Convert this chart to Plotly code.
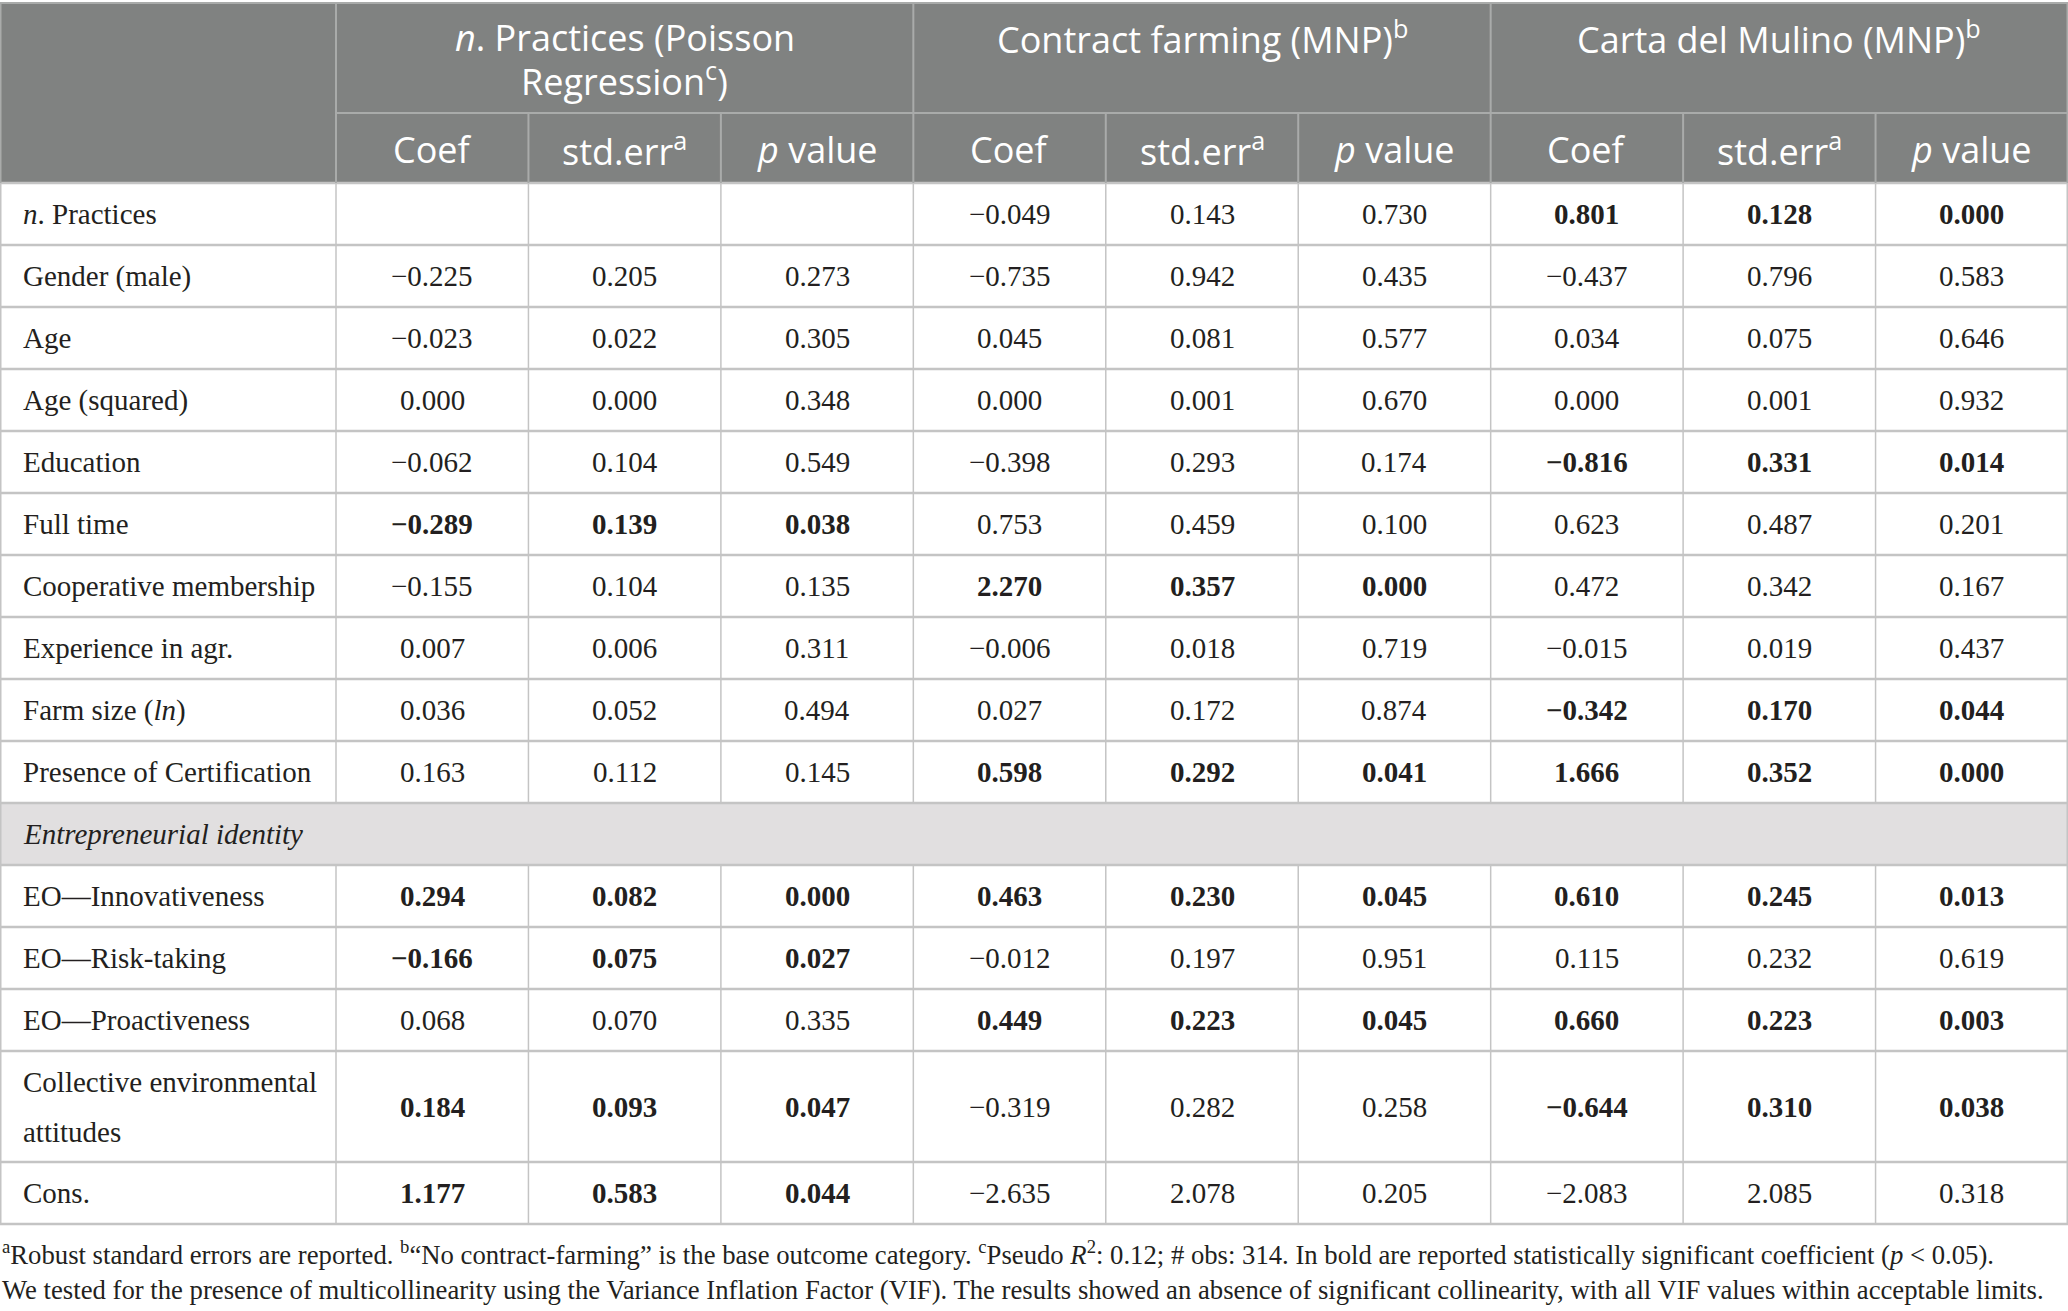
import plotly.graph_objects as go

# table content
variables = ["<i>n</i>. Practices", "Gender (male)", "Age", "Age (squared)", "Education",
             "Full time", "Cooperative membership", "Experience in agr.", "Farm size (<i>ln</i>)",
             "Presence of Certification", "EO—Innovativeness", "EO—Risk-taking",
             "EO—Proactiveness", "Collective environmental<br>attitudes", "Cons."]
section_label = "Entrepreneurial identity"
section_before = "EO—Innovativeness"

models = ["<i>n</i>. Practices (Poisson<br>Regression<sup>c</sup>)",
          "Contract farming (MNP)<sup>b</sup>",
          "Carta del Mulino (MNP)<sup>b</sup>"]
stats = ["Coef", "std.err<sup>a</sup>", "<i>p</i> value"]

poisson_coef = [None, -0.225, -0.023, 0.000, -0.062, -0.289, -0.155, 0.007, 0.036, 0.163,
                0.294, -0.166, 0.068, 0.184, 1.177]
poisson_se = [None, 0.205, 0.022, 0.000, 0.104, 0.139, 0.104, 0.006, 0.052, 0.112,
              0.082, 0.075, 0.070, 0.093, 0.583]
poisson_p = [None, 0.273, 0.305, 0.348, 0.549, 0.038, 0.135, 0.311, 0.494, 0.145,
             0.000, 0.027, 0.335, 0.047, 0.044]

contract_coef = [-0.049, -0.735, 0.045, 0.000, -0.398, 0.753, 2.270, -0.006, 0.027, 0.598,
                 0.463, -0.012, 0.449, -0.319, -2.635]
contract_se = [0.143, 0.942, 0.081, 0.001, 0.293, 0.459, 0.357, 0.018, 0.172, 0.292,
               0.230, 0.197, 0.223, 0.282, 2.078]
contract_p = [0.730, 0.435, 0.577, 0.670, 0.174, 0.100, 0.000, 0.719, 0.874, 0.041,
              0.045, 0.951, 0.045, 0.258, 0.205]

mulino_coef = [0.801, -0.437, 0.034, 0.000, -0.816, 0.623, 0.472, -0.015, -0.342, 1.666,
               0.610, 0.115, 0.660, -0.644, -2.083]
mulino_se = [0.128, 0.796, 0.075, 0.001, 0.331, 0.487, 0.342, 0.019, 0.170, 0.352,
             0.245, 0.232, 0.223, 0.310, 2.085]
mulino_p = [0.000, 0.583, 0.646, 0.932, 0.014, 0.201, 0.167, 0.437, 0.044, 0.000,
            0.013, 0.619, 0.003, 0.038, 0.318]

footnotes = [
    "<sup>a</sup>Robust standard errors are reported. <sup>b</sup>“No contract-farming” is the base "
    "outcome category. <sup>c</sup>Pseudo <i>R</i><sup>2</sup>: 0.12; # obs: 314. In bold are reported "
    "statistically significant coefficient (<i>p</i> < 0.05).",
    "We tested for the presence of multicollinearity using the Variance Inflation Factor (VIF). "
    "The results showed an absence of significant collinearity, with all VIF values within acceptable limits.",
]

# layout (pixels)
W, H = 2068, 1311
SERIF = "Liberation Serif, DejaVu Serif, serif"
SANS = "Open Sans, Noto Sans, sans-serif"
HEAD_BG = "#808281"
HEAD_LINE = "#a9abaa"
SECTION_BG = "#e1dfe0"
GRID = "#c4c4c4"
TXT = "#231f20"

first_w = 336
col_w = (W - first_w) / 9
edges = [0, first_w] + [first_w + col_w * (k + 1) for k in range(9)]
centers = [(edges[k] + edges[k + 1]) / 2 for k in range(1, 10)]

top, head_mid, head_bot = 3, 113, 183
row_h, tall_h = 62, 111
BODY = 29

fig = go.Figure()
shapes, ann = [], []


def fmt(v):
    return "" if v is None else f"{v:.3f}".replace("-", "−")


def text(x, y, s, size, font, color=TXT, anchor="center"):
    if not s:
        return
    ann.append(dict(x=x, y=y, xref="x", yref="y", text=s, showarrow=False,
                    xanchor=anchor, yanchor="middle",
                    font=dict(family=font, size=size, color=color)))


def line(x0, y0, x1, y1, color=GRID, width=2):
    shapes.append(dict(type="line", xref="x", yref="y", x0=x0, y0=y0, x1=x1, y1=y1,
                       line=dict(color=color, width=width)))


# header
shapes.append(dict(type="rect", xref="x", yref="y", x0=0, y0=top, x1=W, y1=head_bot,
                   fillcolor=HEAD_BG, line=dict(width=0), layer="below"))
for i, m in enumerate(models):
    cx = (edges[1 + 3 * i] + edges[4 + 3 * i]) / 2
    for j, part in enumerate(m.split("<br>")):
        text(cx, 37 + 42 * j, part, 36, SANS, "white")
    for j, s in enumerate(stats):
        text(centers[3 * i + j], 149, s, 36, SANS, "white")

# body rows
series = [poisson_coef, poisson_se, poisson_p, contract_coef, contract_se, contract_p,
          mulino_coef, mulino_se, mulino_p]
y = head_bot
hlines = [y]
vspans = []
for r, name in enumerate(variables):
    if name == section_before:
        shapes.append(dict(type="rect", xref="x", yref="y", x0=0, y0=y, x1=W, y1=y + row_h,
                           fillcolor=SECTION_BG, line=dict(width=0), layer="below"))
        text(21, y + row_h / 2, "<i>" + section_label + "</i>", BODY, SERIF, anchor="left")
        y += row_h
        hlines.append(y)
    parts = name.split("<br>")
    h = row_h if len(parts) == 1 else tall_h
    cy = y + h / 2
    for j, part in enumerate(parts):
        text(21, cy + (j - (len(parts) - 1) / 2) * 50, part, BODY, SERIF, anchor="left")
    for k, ser in enumerate(series):
        p = series[3 * (k // 3) + 2][r]
        s = fmt(ser[r])
        if p is not None and p < 0.05:
            s = "<b>" + s + "</b>"
        text(centers[k], cy, s, BODY, SERIF)
    vspans.append((y, y + h))
    y += h
    hlines.append(y)

# grid
for x in edges[1:-1]:
    for y0, y1 in vspans:
        line(x, y0, x, y1, width=1.5)
for yy in hlines:
    line(0, yy, W, yy, width=2.5)
line(0.75, head_bot, 0.75, y, width=1.5)
line(W - 0.75, head_bot, W - 0.75, y, width=1.5)

# header lines
line(0, top, W, top, HEAD_LINE, 2)
line(edges[1], head_mid, W, head_mid, HEAD_LINE, 2)
for k in (1, 4, 7):
    line(edges[k], top, edges[k], head_bot, HEAD_LINE, 2)
for k in (2, 3, 5, 6, 8, 9):
    line(edges[k], head_mid, edges[k], head_bot, HEAD_LINE, 2)
line(0.75, top, 0.75, head_bot, HEAD_LINE, 1.5)
line(W - 0.75, top, W - 0.75, head_bot, HEAD_LINE, 1.5)

# footnotes
for i, f in enumerate(footnotes):
    text(0, 1253 + 37 * i, f, 26.7, SERIF, anchor="left")

fig.update_layout(
    width=W, height=H, margin=dict(l=0, r=0, t=0, b=0),
    paper_bgcolor="white", plot_bgcolor="white",
    xaxis=dict(range=[0, W], visible=False, fixedrange=True),
    yaxis=dict(range=[H, 0], visible=False, fixedrange=True),
    shapes=shapes, annotations=ann, showlegend=False,
)
fig.write_html("out.html", config={"displayModeBar": False},
               post_script="document.body.style.margin='0px';")
